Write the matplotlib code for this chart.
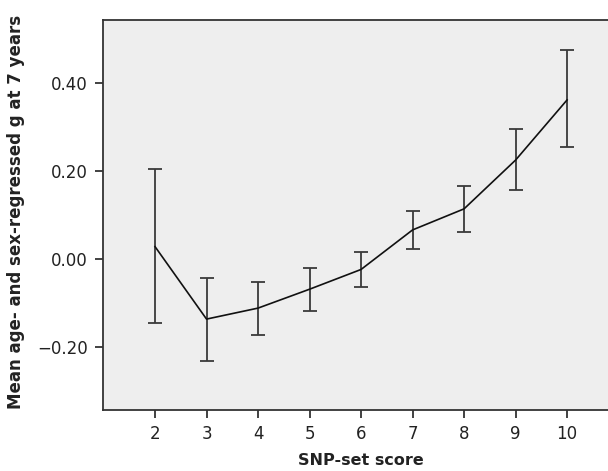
import matplotlib
matplotlib.use("Agg")
import matplotlib.pyplot as plt

# SNP-set score vs mean g (with 95% CI)
scores = [2, 3, 4, 5, 6, 7, 8, 9, 10]
means = [0.028, -0.137, -0.112, -0.069, -0.024, 0.066, 0.114, 0.225, 0.362]
ci_low = [-0.145, -0.232, -0.173, -0.118, -0.065, 0.022, 0.062, 0.157, 0.254]
ci_high = [0.205, -0.043, -0.053, -0.021, 0.016, 0.110, 0.165, 0.296, 0.476]
yticks = [-0.20, 0.00, 0.20, 0.40]

err_lo = [m - lo for m, lo in zip(means, ci_low)]
err_hi = [hi - m for m, hi in zip(means, ci_high)]

fig = plt.figure(figsize=(6.08, 4.71), dpi=100)
ax = fig.add_axes([103 / 608, 1 - 410 / 471, 1 - 103 / 608 + 0.003, 390 / 471])
ax.set_facecolor('#eeeeee')

ax.errorbar(scores, means, yerr=[err_lo, err_hi], fmt='none', ecolor='#3a3a3a',
            elinewidth=1.3, capsize=5, capthick=1.3, zorder=2)
ax.plot(scores, means, color='#111111', linewidth=1.2, zorder=3)

ax.set_xlim(0.99, 10.83)
ax.set_ylim(-0.344, 0.544)
ax.set_xticks(scores)
ax.set_yticks(yticks)
ax.set_yticklabels(['\u22120.20', '0.00', '0.20', '0.40'])

for s in ['left', 'bottom', 'top']:
    ax.spines[s].set_color('#333333')
    ax.spines[s].set_linewidth(1.3)
ax.spines['right'].set_visible(False)

ax.tick_params(axis='both', direction='out', length=6, width=1.3, color='#333333',
               labelsize=12, labelcolor='#222222', pad=5)

ax.set_xlabel('SNP-set score', fontsize=11.5, fontweight='bold', color='#222222')
ax.xaxis.set_label_coords(0.509, -0.11)
ax.set_ylabel('Mean age- and sex-regressed g at 7 years', fontsize=12, fontweight='bold',
              color='#222222')
ax.yaxis.set_label_coords(-0.154, 0.508)

fig.savefig('out.png', dpi=100)
